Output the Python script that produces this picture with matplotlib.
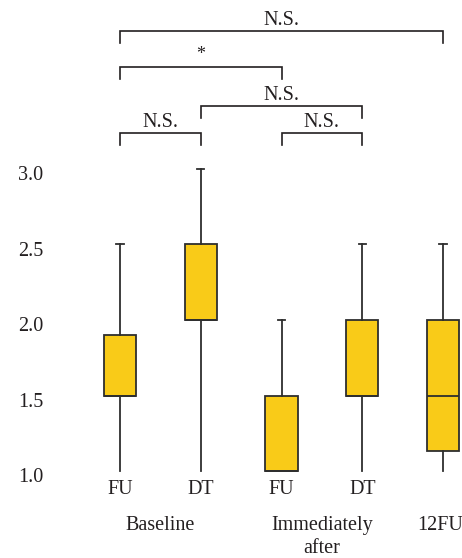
import matplotlib
matplotlib.use("Agg")
import matplotlib.pyplot as plt
from matplotlib.transforms import ScaledTranslation

plt.rcParams['font.family'] = ['Liberation Serif', 'DejaVu Serif']

# Box summary statistics for each group
conditions = ["FU", "DT", "FU", "DT", ""]
groups = ["Baseline", "Immediately\nafter", "12FU"]
group_pos = [1.5, 3.5, 4.96]
whislo = [1.0, 1.0, 1.0, 1.0, 1.0]
q1 = [1.5, 2.0, 1.0, 1.5, 1.13]
med = [1.5, 2.0, 1.0, 1.5, 1.5]
q3 = [1.9, 2.5, 1.5, 2.0, 2.0]
whishi = [2.5, 3.0, 2.0, 2.5, 2.5]
yticks = [1.0, 1.5, 2.0, 2.5, 3.0]

# Significance brackets: (left box, right box, bar height, label, label height)
brackets = [
    (1, 5, 3.914, "N.S.", 3.955),
    (1, 3, 3.675, "*", 3.727),
    (2, 4, 3.417, "N.S.", 3.457),
    (1, 2, 3.238, "N.S.", 3.28),
    (3, 4, 3.238, "N.S.", 3.28),
]
leg = 0.08

ink = "#231f20"
box_face = "#f9cb18"
box_edge = "#2e2e2e"

fig = plt.figure(figsize=(4.62, 5.58), dpi=100)
ax = fig.add_axes([60 / 462, 1 - 476 / 558, 402 / 462, 476 / 558])

stats = []
for i in range(len(q1)):
    stats.append(dict(whislo=whislo[i], q1=q1[i], med=med[i], q3=q3[i],
                      whishi=whishi[i], fliers=[]))
positions = list(range(1, len(stats) + 1))
parts = ax.bxp(stats, positions=positions, widths=0.4, patch_artist=True,
               showfliers=False,
               boxprops=dict(facecolor=box_face, edgecolor=box_edge, linewidth=1.3),
               medianprops=dict(color=box_edge, linewidth=1.3),
               whiskerprops=dict(color=box_edge, linewidth=1.3),
               capprops=dict(color=box_edge, linewidth=1.3),
               capwidths=0.09)
# only upper caps are drawn
for j, cap in enumerate(parts['caps']):
    if j % 2 == 0:
        cap.set_visible(False)

ax.set_xlim(0.257, 5.235)
ax.set_ylim(0.967, 4.119)
for s in ax.spines.values():
    s.set_visible(False)

ax.set_yticks(yticks)
ax.set_yticklabels([f"{v:.1f}" for v in yticks])
ax.set_xticks(positions)
ax.set_xticklabels(conditions)
ax.tick_params(axis='y', length=0, pad=12, labelsize=14.5, labelcolor=ink)
ax.tick_params(axis='x', length=0, pad=3, labelsize=14.5, labelcolor=ink)
shift = ScaledTranslation(0, -3 / 72, fig.dpi_scale_trans)
for lbl in ax.get_yticklabels():
    lbl.set_transform(lbl.get_transform() + shift)

for x, g in zip(group_pos, groups):
    ax.annotate(g, xy=(x, 0), xycoords=('data', 'axes fraction'),
                xytext=(0, -28.5), textcoords='offset points',
                ha='center', va='top', fontsize=14.5, color=ink,
                linespacing=1.28, annotation_clip=False)

for a, b, h, lab, th in brackets:
    ax.plot([a, a, b, b], [h - leg, h, h, h - leg], color=ink, lw=1.2,
            clip_on=False, solid_joinstyle='miter')
    ax.text((a + b) / 2, th, lab, ha='center', va='baseline',
            fontsize=14.5 if lab != "*" else 13, color=ink)

fig.savefig("out.png", dpi=100)
